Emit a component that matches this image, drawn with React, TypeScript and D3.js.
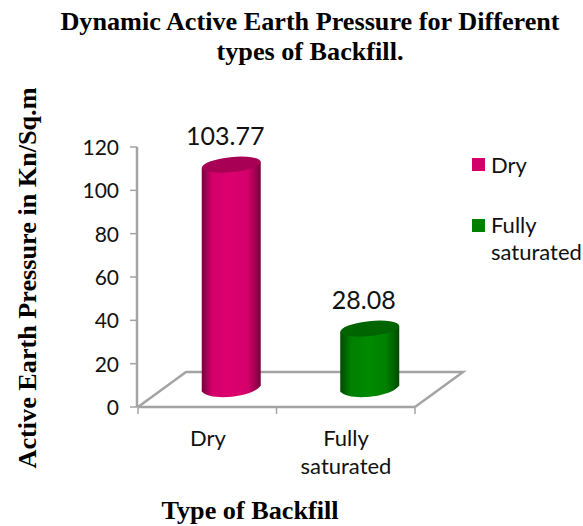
import * as d3 from 'd3';

const categories = ['Dry', 'Fully saturated'];
const values = [103.77, 28.08];
const valueLabels = ['103.77', '28.08'];
const yTicks = [0, 20, 40, 60, 80, 100, 120];
const colors = ['#d4006a', '#008000'];
const lightColors = ['#dc006e', '#008a00'];
const edgeColors = ['#7a003c', '#004a00'];
const topColors = ['#a80054', '#006400'];

const width = 583;
const height = 526;
const sans = 'Lato, sans-serif';
const serif = '"Liberation Serif", serif';
const gray = '#a3a3a3';
const ink = '#111';

// floor is drawn as a skewed plane behind the axis line
const depthX = 48;
const depthY = -35;

const x = d3.scaleBand<string>().domain(categories).range([138, 415]);
const y = d3.scaleLinear().domain([0, 120]).range([407, 147]);

const barWidth = 59;
const ry = 7.5;

function cylinder(i: number) {
  const cx = x(categories[i])! + x.bandwidth() / 2 + depthX / 2;
  const rx = barWidth / 2;
  const bottom = y(0) + depthY / 2;
  const top = bottom - (y(0) - y(values[i]));
  const side = d3.path();
  // tilted a bit, so right side sits higher than left
  side.moveTo(cx - rx, top + 3);
  side.lineTo(cx - rx, bottom + 2);
  side.bezierCurveTo(cx - rx + 8, bottom + 12, cx + rx - 8, bottom + 8, cx + rx, bottom - 4);
  side.lineTo(cx + rx, top - 3);
  side.closePath();
  return { cx, rx, top, bottom, side: side.toString() };
}

export default function App() {
  const floor = d3.line()([
    [x.range()[0], y(0)],
    [x.range()[0] + depthX, y(0) + depthY],
    [x.range()[1] + depthX, y(0) + depthY],
    [x.range()[1], y(0)],
  ]);

  return (
    <svg
      width={width}
      height={height}
      style={{ position: 'absolute', left: 0, top: 0, background: '#fff' }}
    >
      <defs>
        {categories.map((c, i) => (
          <linearGradient key={c} id={`cyl${i}`} x1="0" x2="1" y1="0" y2="0">
            <stop offset="0" stopColor={edgeColors[i]} />
            <stop offset="0.18" stopColor={colors[i]} />
            <stop offset="0.5" stopColor={lightColors[i]} />
            <stop offset="0.78" stopColor={colors[i]} />
            <stop offset="1" stopColor={edgeColors[i]} />
          </linearGradient>
        ))}
      </defs>

      <text x={310} y={30} textAnchor="middle" fontFamily={serif} fontWeight="bold" fontSize={26.2}>
        Dynamic Active Earth Pressure for Different
      </text>
      <text x={310} y={60} textAnchor="middle" fontFamily={serif} fontWeight="bold" fontSize={26.2}>
        types of Backfill.
      </text>

      <text
        transform="translate(36,278) rotate(-90)"
        textAnchor="middle"
        fontFamily={serif}
        fontWeight="bold"
        fontSize={26.2}
      >
        Active Earth Pressure in Kn/Sq.m
      </text>
      <text x={250} y={519} textAnchor="middle" fontFamily={serif} fontWeight="bold" fontSize={26.2}>
        Type of Backfill
      </text>

      <path d={floor ?? ''} fill="none" stroke={gray} strokeWidth={2.5} />
      <line x1={137} x2={137} y1={y(120)} y2={y(0)} stroke={gray} strokeWidth={2.5} />
      <line x1={x.range()[0]} x2={x.range()[1]} y1={y(0)} y2={y(0)} stroke={gray} strokeWidth={2.5} />

      {yTicks.map(t => (
        <g key={t}>
          <line x1={130} x2={137} y1={y(t)} y2={y(t)} stroke={gray} strokeWidth={1.5} />
          <text x={119} y={y(t) + 8} textAnchor="end" fontFamily={sans} fontSize={21} fill={ink}>
            {t}
          </text>
        </g>
      ))}

      {[0, 1, 2].map(k => {
        const px = x.range()[0] + k * x.step();
        return <line key={k} x1={px} x2={px} y1={y(0)} y2={y(0) + 7} stroke={gray} strokeWidth={1.5} />;
      })}

      {categories.map((c, i) => {
        const cyl = cylinder(i);
        return (
          <g key={c}>
            <path d={cyl.side} fill={`url(#cyl${i})`} />
            <ellipse
              cx={cyl.cx}
              cy={cyl.top}
              rx={cyl.rx}
              ry={ry}
              fill={topColors[i]}
              transform={`rotate(-6 ${cyl.cx} ${cyl.top})`}
            />
            <text
              x={cyl.cx - 6}
              y={cyl.top - 20}
              textAnchor="middle"
              fontFamily={sans}
              fontSize={25}
              fill={ink}
            >
              {valueLabels[i]}
            </text>
          </g>
        );
      })}

      <text x={208} y={446} textAnchor="middle" fontFamily={sans} fontSize={22} fill={ink}>
        Dry
      </text>
      <text x={346} y={446} textAnchor="middle" fontFamily={sans} fontSize={22} fill={ink}>
        Fully
      </text>
      <text x={346} y={474} textAnchor="middle" fontFamily={sans} fontSize={22} fill={ink}>
        saturated
      </text>

      <rect x={472} y={158} width={13} height={13} fill={colors[0]} />
      <text x={491} y={173} fontFamily={sans} fontSize={22} fill={ink}>
        Dry
      </text>
      <rect x={472} y={219} width={13} height={13} fill={colors[1]} />
      <text x={491} y={233} fontFamily={sans} fontSize={22} fill={ink}>
        Fully
      </text>
      <text x={491} y={260} fontFamily={sans} fontSize={22} fill={ink}>
        saturated
      </text>
    </svg>
  );
}
